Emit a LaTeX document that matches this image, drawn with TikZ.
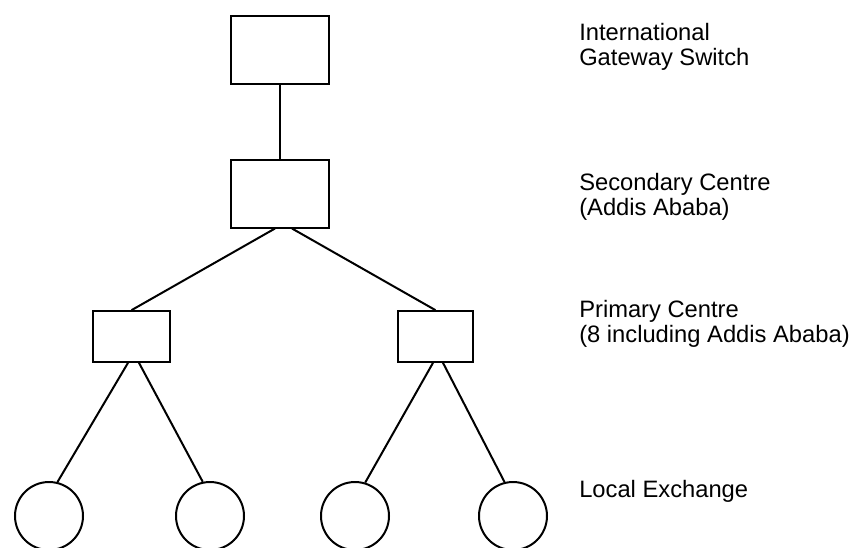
\documentclass[tikz,border=0pt]{standalone}
\usepackage{fontspec}
\setmainfont{Liberation Sans}
\usepackage{tikz}
\usetikzlibrary{positioning,calc}

\begin{document}
\begin{tikzpicture}[
    x=0.75pt, y=-0.75pt,
    switchbox/.style={draw, line width=1.5pt, inner sep=0pt},
    exchange/.style={draw, circle, line width=1.5pt, minimum size=51pt, inner sep=0pt},
    link/.style={line width=1.5pt},
    levellabel/.style={anchor=west, align=left, inner sep=0pt, font=\fontsize{17.8}{18.75}\selectfont}
]
    \useasboundingbox (0,0) rectangle (854,547);

    % switching centres
    \node[switchbox, minimum width=73.5pt, minimum height=51pt] (igs) at (280,50) {};
    \node[switchbox, minimum width=73.5pt, minimum height=51pt] (sec) at (280,193.5) {};
    \node[switchbox, minimum width=57.5pt, minimum height=38pt] (pl) at (131.5,336.5) {};
    \node[switchbox, minimum width=56.5pt, minimum height=38pt] (pr) at (435.5,336.5) {};

    % local exchanges
    \node[exchange] (le1) at (49,516) {};
    \node[exchange] (le2) at (210,516) {};
    \node[exchange] (le3) at (355,516) {};
    \node[exchange] (le4) at (513,516) {};

    % links
    \draw[link] (igs) -- (sec);
    \draw[link] ($(sec.south)+(-5,0)$) -- (pl.north);
    \draw[link] ($(sec.south)+(12,0)$) -- (pr.north);
    \draw[link] ($(pl.south)+(-3.5,0)$) -- (le1.76);
    \draw[link] ($(pl.south)+(7.5,0)$) -- (le2.102);
    \draw[link] ($(pr.south)+(-2.5,0)$) -- (le3.73);
    \draw[link] ($(pr.south)+(7.5,0)$) -- (le4.104);

    % level labels
    \node[levellabel] (lbigs) at (579,46.5) {International\\Gateway Switch};
    \node[levellabel] (lbsec) at (579,196.5) {Secondary Centre\\(Addis Ababa)};
    \node[levellabel] (lbpri) at (579,323.5) {Primary Centre\\(8 including Addis Ababa)};
    \node[levellabel] (lbloc) at (579,491) {Local Exchange};

\end{tikzpicture}
\end{document}
